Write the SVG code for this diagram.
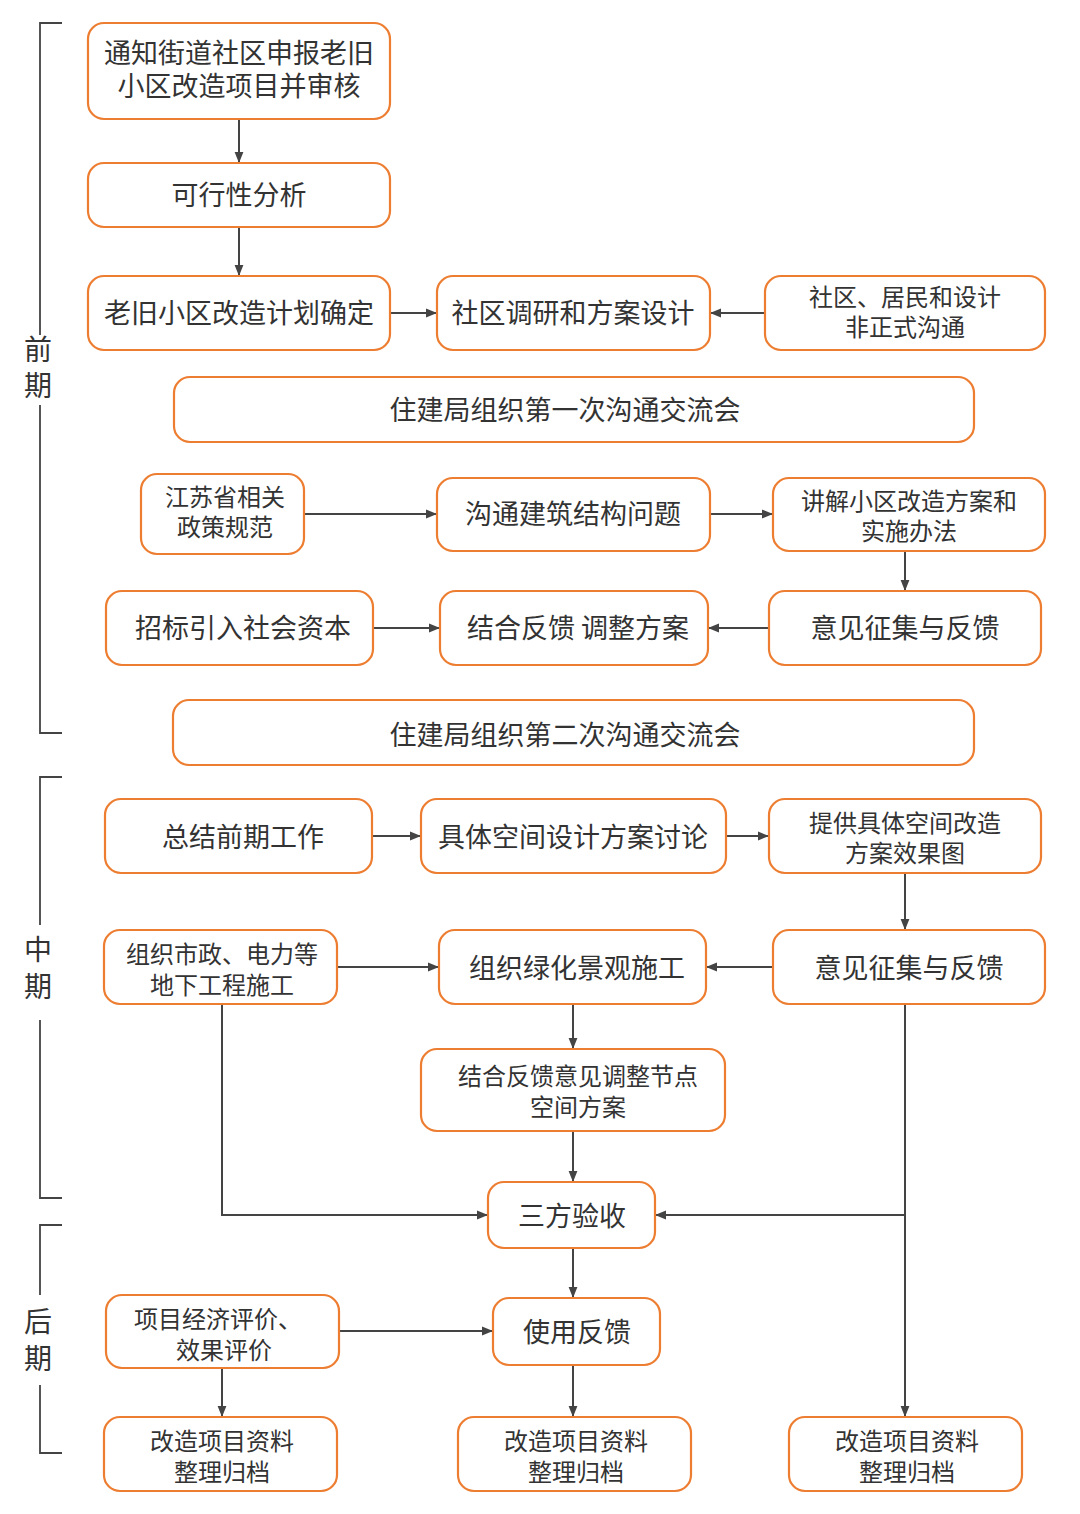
<svg xmlns="http://www.w3.org/2000/svg" width="1080" height="1514" viewBox="0 0 1080 1514">
<style>
.b{fill:#fff;stroke:#ED7D31;stroke-width:2.2}
text{font-family:"Noto Sans CJK SC","Noto Sans",sans-serif;font-size:27px;fill:#333;text-anchor:middle}
.s{font-size:24px}
.c{fill:none;stroke:#444;stroke-width:2}
.k{fill:none;stroke:#444;stroke-width:1.8}
.p{font-size:28px}
</style>
<defs><marker id="a" viewBox="0 0 10 10" refX="10" refY="5" markerWidth="11" markerHeight="11" markerUnits="userSpaceOnUse" orient="auto"><path d="M0,1 L10,5 L0,9 Z" fill="#444"/></marker></defs>
<rect width="1080" height="1514" fill="#fff"/>
<g id="phases">
<path class="k" d="M62,23 H40 V335 M40,405 V733 H62"/>
<text class="p" x="38" y="360">前</text><text class="p" x="38" y="396">期</text>
<path class="k" d="M62,777 H40 V925 M40,1020 V1198 H62"/>
<text class="p" x="38" y="960">中</text><text class="p" x="38" y="997">期</text>
<path class="k" d="M62,1225 H40 V1295 M40,1385 V1453 H62"/>
<text class="p" x="38" y="1332">后</text><text class="p" x="38" y="1369">期</text>
</g>
<g id="connectors">
<path class="c" marker-end="url(#a)" d="M239,119 V163"/>
<path class="c" marker-end="url(#a)" d="M239,227 V276"/>
<path class="c" marker-end="url(#a)" d="M390,313 H437"/>
<path class="c" marker-end="url(#a)" d="M765,313 H710"/>
<path class="c" marker-end="url(#a)" d="M304,514 H437"/>
<path class="c" marker-end="url(#a)" d="M710,514 H773"/>
<path class="c" marker-end="url(#a)" d="M905,551 V591"/>
<path class="c" marker-end="url(#a)" d="M769,628 H708"/>
<path class="c" marker-end="url(#a)" d="M373,628 H440"/>
<path class="c" marker-end="url(#a)" d="M372,836 H421"/>
<path class="c" marker-end="url(#a)" d="M726,836 H769"/>
<path class="c" marker-end="url(#a)" d="M905,873 V930"/>
<path class="c" marker-end="url(#a)" d="M773,967 H706"/>
<path class="c" marker-end="url(#a)" d="M337,967 H439"/>
<path class="c" marker-end="url(#a)" d="M573,1004 V1049"/>
<path class="c" marker-end="url(#a)" d="M573,1131 V1182"/>
<path class="c" marker-end="url(#a)" d="M222,1004 V1215 H488"/>
<path class="c" marker-end="url(#a)" d="M905,1004 V1417"/>
<path class="c" marker-end="url(#a)" d="M905,1215 H655"/>
<path class="c" marker-end="url(#a)" d="M573,1248 V1298"/>
<path class="c" marker-end="url(#a)" d="M339,1331 H493"/>
<path class="c" marker-end="url(#a)" d="M222,1368 V1417"/>
<path class="c" marker-end="url(#a)" d="M573,1365 V1417"/>
</g>
<g id="n1"><rect class="b" x="88" y="23" width="302" height="96" rx="16"/><text x="239" y="63">通知街道社区申报老旧</text><text x="239" y="96">小区改造项目并审核</text></g>
<g id="n2"><rect class="b" x="88" y="163" width="302" height="64" rx="16"/><text x="239" y="205">可行性分析</text></g>
<g id="n3"><rect class="b" x="88" y="276" width="302" height="74" rx="16"/><text x="239" y="323">老旧小区改造计划确定</text></g>
<g id="n4"><rect class="b" x="437" y="276" width="273" height="74" rx="16"/><text x="573" y="323">社区调研和方案设计</text></g>
<g id="n5"><rect class="b" x="765" y="276" width="280" height="74" rx="16"/><text class="s" x="905" y="306">社区、居民和设计</text><text class="s" x="905" y="336">非正式沟通</text></g>
<g id="n6"><rect class="b" x="174" y="377" width="800" height="65" rx="16"/><text x="565" y="420">住建局组织第一次沟通交流会</text></g>
<g id="n7"><rect class="b" x="141" y="474" width="163" height="80" rx="16"/><text class="s" x="225" y="506">江苏省相关</text><text class="s" x="225" y="536">政策规范</text></g>
<g id="n8"><rect class="b" x="437" y="478" width="273" height="73" rx="16"/><text x="573" y="524">沟通建筑结构问题</text></g>
<g id="n9"><rect class="b" x="773" y="478" width="272" height="73" rx="16"/><text class="s" x="909" y="510">讲解小区改造方案和</text><text class="s" x="909" y="540">实施办法</text></g>
<g id="n10"><rect class="b" x="106" y="591" width="267" height="74" rx="16"/><text x="243" y="638">招标引入社会资本</text></g>
<g id="n11"><rect class="b" x="440" y="591" width="268" height="74" rx="16"/><text x="578" y="638">结合反馈 调整方案</text></g>
<g id="n12"><rect class="b" x="769" y="591" width="272" height="74" rx="16"/><text x="905" y="638">意见征集与反馈</text></g>
<g id="n13"><rect class="b" x="173" y="700" width="801" height="65" rx="16"/><text x="565" y="745">住建局组织第二次沟通交流会</text></g>
<g id="n14"><rect class="b" x="105" y="799" width="267" height="74" rx="16"/><text x="243" y="847">总结前期工作</text></g>
<g id="n15"><rect class="b" x="421" y="799" width="305" height="74" rx="16"/><text x="573" y="847">具体空间设计方案讨论</text></g>
<g id="n16"><rect class="b" x="769" y="799" width="272" height="74" rx="16"/><text class="s" x="905" y="832">提供具体空间改造</text><text class="s" x="905" y="862">方案效果图</text></g>
<g id="n17"><rect class="b" x="104" y="930" width="233" height="74" rx="16"/><text class="s" x="222" y="963">组织市政、电力等</text><text class="s" x="222" y="994">地下工程施工</text></g>
<g id="n18"><rect class="b" x="439" y="930" width="267" height="74" rx="16"/><text x="577" y="978">组织绿化景观施工</text></g>
<g id="n19"><rect class="b" x="773" y="930" width="272" height="74" rx="16"/><text x="909" y="978">意见征集与反馈</text></g>
<g id="n20"><rect class="b" x="421" y="1049" width="304" height="82" rx="16"/><text class="s" x="578" y="1085">结合反馈意见调整节点</text><text class="s" x="578" y="1116">空间方案</text></g>
<g id="n21"><rect class="b" x="488" y="1182" width="167" height="66" rx="16"/><text x="572" y="1226">三方验收</text></g>
<g id="n22"><rect class="b" x="106" y="1295" width="233" height="73" rx="16"/><text class="s" x="218" y="1328">项目经济评价、</text><text class="s" x="224" y="1359">效果评价</text></g>
<g id="n23"><rect class="b" x="493" y="1298" width="167" height="67" rx="16"/><text x="577" y="1342">使用反馈</text></g>
<g id="n24"><rect class="b" x="104" y="1417" width="233" height="74" rx="16"/><text class="s" x="222" y="1450">改造项目资料</text><text class="s" x="222" y="1481">整理归档</text></g>
<g id="n25"><rect class="b" x="458" y="1417" width="233" height="74" rx="16"/><text class="s" x="576" y="1450">改造项目资料</text><text class="s" x="576" y="1481">整理归档</text></g>
<g id="n26"><rect class="b" x="789" y="1417" width="233" height="74" rx="16"/><text class="s" x="907" y="1450">改造项目资料</text><text class="s" x="907" y="1481">整理归档</text></g>
</svg>
